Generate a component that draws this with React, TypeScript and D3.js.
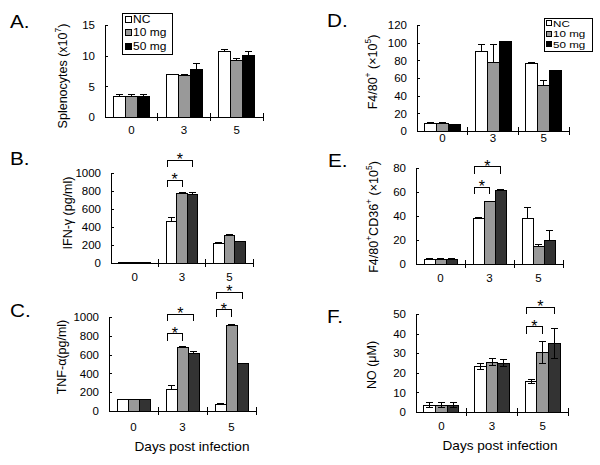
import { useEffect, useRef } from "react";
import * as d3 from "d3";

const days = ["0", "3", "5"];
const groups = ["NC", "10 mg", "50 mg"];

// A. splenocytes (x10^7), rows = NC, 10 mg, 50 mg
const splenoMean = [[3.3, 7.0, 10.7], [3.3, 6.7, 9.2], [3.3, 7.8, 10.0]];
const splenoErr = [[0.3, 0, 0.3], [0.3, 0.3, 0.3], [0.3, 1.0, 0.6]];
const splenoTicks = [0, 5, 10, 15];

// B. IFN-gamma (pg/ml)
const ifnMean = [[5, 460, 220], [5, 775, 305], [5, 765, 240]];
const ifnErr = [[0, 45, 10], [0, 10, 15], [0, 15, 0]];
const ifnTicks = [0, 200, 400, 600, 800, 1000];
const ifnSig = [[1, 0, 1, 920], [1, 0, 2, 1140]]; // day, from, to, level

// C. TNF-alpha (pg/ml)
const tnfMean = [[120, 230, 70], [120, 680, 910], [120, 615, 510]];
const tnfErr = [[0, 40, 5], [0, 10, 10], [0, 15, 0]];
const tnfTicks = [0, 200, 400, 600, 800, 1000];
const tnfSig = [[1, 0, 1, 820], [1, 0, 2, 1030], [2, 0, 1, 1075], [2, 0, 2, 1265]];

// D. F4/80+ (x10^5)
const f480Mean = [[8, 90, 76], [8, 78, 51], [7, 101, 68]];
const f480Err = [[2, 8, 1], [2, 20, 6], [0, 0, 0]];
const f480Ticks = [0, 20, 40, 60, 80, 100, 120];

// E. F4/80+CD36+ (x10^5)
const cd36Mean = [[3.5, 38, 38], [3.5, 52, 15], [3.5, 61.5, 20]];
const cd36Err = [[1.5, 0.5, 9], [1.5, 0.5, 1], [1.5, 1, 8]];
const cd36Ticks = [0, 20, 40, 60, 80];
const cd36Sig = [[1, 0, 1, 64], [1, 0, 2, 81]];

// F. NO (uM)
const noMean = [[3.5, 23, 15.5], [3.5, 25.5, 30.5], [3.5, 25, 35]];
const noErr = [[1.2, 1.5, 1], [1.2, 2, 5.5], [1.2, 2, 7.5]];
const noTicks = [0, 10, 20, 30, 40, 50];
const noSig = [[2, 0, 1, 43.5], [2, 0, 2, 53.5]];

const FONT = "'Liberation Sans', Arial, Helvetica, sans-serif";
const lightCols = ["#ffffff", "#999999", "#000000"];
const darkCols = ["#ffffff", "#999999", "#333333"];

const panels: any[] = [
  {letter: "A.", lx: 10, ly: 28, left: 105, right: 263, top: 25, bottom: 117, yMax: 15,
    ticks: splenoTicks, mean: splenoMean, err: splenoErr, groupW: 36, xdy: 17,
    colors: lightCols, title: [["Splenocytes (x10"], ["7", 1], [")"]], tx: 63, ty: 76,
    legend: {x: 122, y: 13, w: 50, h: 41, sw: 6, fs: 10, sx: 1.2, first: 19, step: 13.8, tx: 133}},
  {letter: "B.", lx: 10, ly: 165, left: 111, right: 253, top: 173, bottom: 263, yMax: 1000,
    ticks: ifnTicks, mean: ifnMean, err: ifnErr, sig: ifnSig, groupW: 31.5, xdy: 18,
    colors: darkCols, title: [["IFN-\u03b3 (pg/ml)"]], tx: 68, ty: 213},
  {letter: "C.", lx: 10, ly: 317, left: 109, right: 256, top: 317, bottom: 411, yMax: 1000,
    ticks: tnfTicks, mean: tnfMean, err: tnfErr, sig: tnfSig, groupW: 33, xdy: 20,
    colors: darkCols, title: [["TNF-\u03b1(pg/ml)"]], tx: 62, ty: 357, xTitle: [192, 451]},
  {letter: "D.", lx: 327, ly: 27, left: 417, right: 569, top: 25, bottom: 131, yMax: 120,
    ticks: f480Ticks, mean: f480Mean, err: f480Err, groupW: 36, xdy: 11,
    colors: lightCols, title: [["F4/80"], ["+", 1], [" (\u00d710"], ["5", 1], [")"]], tx: 373, ty: 72,
    legend: {x: 544, y: 18, w: 48, h: 33, sw: 5, fs: 9.3, sx: 1.25, first: 23, step: 10.7, tx: 553}},
  {letter: "E.", lx: 328, ly: 167, left: 416, right: 563, top: 168, bottom: 264, yMax: 80,
    ticks: cd36Ticks, mean: cd36Mean, err: cd36Err, sig: cd36Sig, groupW: 33, xdy: 18,
    colors: darkCols, title: [["F4/80"], ["+", 1], ["CD36"], ["+", 1], [" (\u00d710"], ["5", 1], [")"]], tx: 374, ty: 217},
  {letter: "F.", lx: 327, ly: 323, left: 416, right: 568, top: 314, bottom: 412, yMax: 50,
    ticks: noTicks, mean: noMean, err: noErr, sig: noSig, groupW: 35, xdy: 18,
    colors: darkCols, title: [["NO ("], ["\u03bcM)"]], tx: 372, ty: 365, xTitle: [500, 450], twoSided: true},
];

function drawPanel(svg: any, p: any) {
  const g = svg.append("g");
  const y = d3.scaleLinear().domain([0, p.yMax]).range([p.bottom, p.top]);
  const x0 = d3.scaleBand().domain(days).range([p.left, p.right]);
  const x1 = d3.scaleBand().domain(groups).range([0, p.groupW]);
  const off = (x0.bandwidth() - p.groupW) / 2;
  const bw = x1.bandwidth();
  const bx = (di: number, si: number) => (x0(days[di]) as number) + off + (x1(groups[si]) as number);

  // bars
  groups.forEach((s, si) => {
    g.append("g").selectAll("rect")
      .data(p.mean[si])
      .join("rect")
      .attr("x", (d: number, di: number) => bx(di, si))
      .attr("y", (d: number) => y(d))
      .attr("width", bw)
      .attr("height", (d: number) => y(0) - y(d))
      .attr("fill", p.colors[si])
      .attr("stroke", "#000")
      .attr("shape-rendering", "crispEdges");
  });

  // error bars
  const eb = g.append("g").attr("stroke", "#000").attr("shape-rendering", "crispEdges");
  groups.forEach((s, si) => {
    p.err[si].forEach((e: number, di: number) => {
      if (!e) return;
      const cx = bx(di, si) + bw / 2;
      const m = p.mean[si][di];
      const lo = p.twoSided ? m - e : m;
      eb.append("line").attr("x1", cx).attr("x2", cx).attr("y1", y(lo)).attr("y2", y(m + e));
      eb.append("line").attr("x1", cx - 3.5).attr("x2", cx + 3.5).attr("y1", y(m + e)).attr("y2", y(m + e));
      if (p.twoSided)
        eb.append("line").attr("x1", cx - 3.5).attr("x2", cx + 3.5).attr("y1", y(lo)).attr("y2", y(lo));
    });
  });

  // y axis, ticks point inward
  const ya = g.append("g")
    .attr("transform", `translate(${p.left},0)`)
    .call(d3.axisLeft(y).tickValues(p.ticks).tickSize(-3).tickSizeOuter(0)
      .tickPadding(10).tickFormat(d3.format("d")));
  ya.selectAll("path, line").attr("stroke", "#000").attr("shape-rendering", "crispEdges");
  ya.selectAll("text")
    .attr("font-family", FONT).attr("font-size", 11.5).attr("fill", "#000");

  // x axis
  const xa = g.append("g").attr("stroke", "#000").attr("shape-rendering", "crispEdges");
  xa.append("line").attr("x1", p.left).attr("x2", p.right).attr("y1", y(0)).attr("y2", y(0));
  days.forEach((d, i) => {
    const tx = p.left + x0.step() * (i + 1);
    xa.append("line").attr("x1", tx).attr("x2", tx).attr("y1", y(0) - 4).attr("y2", y(0) + 4);
  });
  g.selectAll(".xl").data(days).join("text")
    .attr("x", (d: string) => (x0(d) as number) + x0.bandwidth() / 2)
    .attr("y", y(0) + p.xdy)
    .attr("text-anchor", "middle")
    .attr("font-family", FONT).attr("font-size", 11.5)
    .text((d: string) => d);

  // significance brackets
  (p.sig || []).forEach(([di, a, b, lv]: number[]) => {
    const xa0 = bx(di, a) + 1;
    const xb0 = bx(di, b) + bw / 2;
    const yt = y(lv);
    g.append("path")
      .attr("d", `M${xa0},${yt + 7}V${yt}H${xb0}V${yt + 7}`)
      .attr("fill", "none").attr("stroke", "#000").attr("shape-rendering", "crispEdges");
    g.append("text")
      .attr("x", (xa0 + xb0) / 2).attr("y", yt + 5)
      .attr("text-anchor", "middle")
      .attr("font-family", FONT).attr("font-size", 16)
      .text("*");
  });

  // panel letter
  g.append("text")
    .attr("transform", `translate(${p.lx},${p.ly}) scale(1.15,1)`)
    .attr("font-family", FONT).attr("font-size", 18)
    .text(p.letter);

  // y title
  const t = g.append("text")
    .attr("transform", `translate(${p.tx},${p.ty}) rotate(-90)`)
    .attr("text-anchor", "middle")
    .attr("dominant-baseline", "central")
    .attr("font-family", FONT).attr("font-size", 12.5);
  p.title.forEach(([s, sup]: any) => {
    const sp = t.append("tspan").text(s);
    if (sup) sp.attr("baseline-shift", "super").attr("font-size", 8.5);
  });

  // x title
  if (p.xTitle) {
    g.append("text")
      .attr("transform", `translate(${p.xTitle[0]},${p.xTitle[1]}) scale(1.09,1)`)
      .attr("text-anchor", "middle")
      .attr("font-family", FONT).attr("font-size", 12.5)
      .text("Days post infection");
  }

  // legend
  if (p.legend) {
    const L = p.legend;
    const lg = g.append("g");
    lg.append("rect").attr("x", L.x).attr("y", L.y).attr("width", L.w).attr("height", L.h)
      .attr("fill", "#fff").attr("stroke", "#000").attr("shape-rendering", "crispEdges");
    groups.forEach((s, i) => {
      const cy = L.first + i * L.step;
      lg.append("rect").attr("x", L.tx - L.sw - 1.5).attr("y", cy - L.sw / 2).attr("width", L.sw).attr("height", L.sw)
        .attr("fill", p.colors[i]).attr("stroke", "#000").attr("shape-rendering", "crispEdges");
      lg.append("text")
        .attr("transform", `translate(${L.tx},${cy}) scale(${L.sx},1)`)
        .attr("dominant-baseline", "central")
        .attr("font-family", FONT).attr("font-size", L.fs)
        .text(s);
    });
  }
}

export default function App() {
  const ref = useRef<SVGSVGElement>(null);
  useEffect(() => {
    const svg = d3.select(ref.current);
    svg.selectAll("*").remove();
    svg.append("rect").attr("width", 600).attr("height", 465).attr("fill", "#fff");
    panels.forEach((p) => drawPanel(svg, p));
  }, []);
  return (
    <svg ref={ref} width={600} height={465}
      style={{position: "absolute", left: 0, top: 0, background: "#fff"}} />
  );
}
